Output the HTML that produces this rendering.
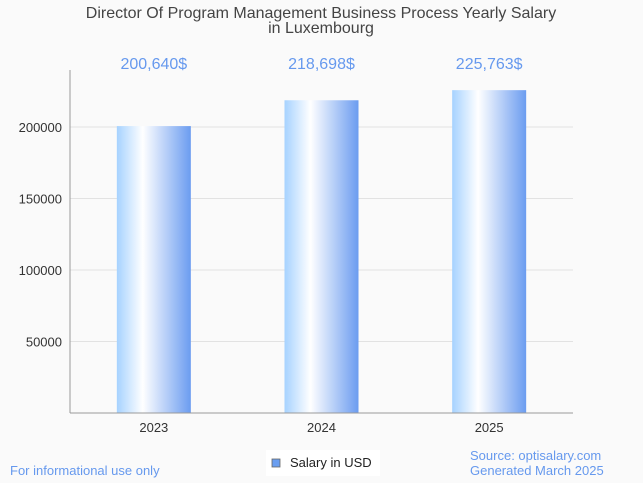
<!DOCTYPE html>
<html><head><meta charset="utf-8"><style>
body{margin:0;background:#fafafa;font-family:"Liberation Sans",sans-serif;}
</style></head><body>
<svg width="643" height="483" xmlns="http://www.w3.org/2000/svg" style="display:block">
<defs><linearGradient id="g" x1="0" x2="1" y1="0" y2="0">
<stop offset="0" stop-color="#a6d2ff"/><stop offset="0.35" stop-color="#ffffff"/><stop offset="1" stop-color="#6b9cf0"/></linearGradient></defs>
<rect width="643" height="483" fill="#fafafa"/>
<text x="321" y="18" text-anchor="middle" font-size="16" fill="#444">Director Of Program Management Business Process Yearly Salary</text>
<text x="321" y="33" text-anchor="middle" font-size="16" fill="#444">in Luxembourg</text>
<g id="grid"></g><g id="bars"></g>
<line x1="70" y1="70" x2="70" y2="413" stroke="#999"/>
<line x1="70" y1="413" x2="573" y2="413" stroke="#999"/>
<text x="10" y="475" font-size="13" fill="#6699ee">For informational use only</text>
<rect x="266" y="450" width="114" height="26" fill="#fff"/>
<rect x="272" y="459" width="8" height="8" fill="#6a9ef0" stroke="#666" stroke-width="0.8"/>
<text x="290" y="467" font-size="13" fill="#222">Salary in USD</text>
<text x="470" y="460" font-size="13" fill="#6699ee">Source: optisalary.com</text>
<text x="470" y="475" font-size="13" fill="#6699ee">Generated March 2025</text>
</svg>
<script>
const categories=["2023","2024","2025"];
const salaries=[200640,218698,225763];
const valueLabels=["200,640$","218,698$","225,763$"];
const yTicks=[50000,100000,150000,200000];
const NS="http://www.w3.org/2000/svg";
const x0=70,x1=573,yb=413,pxPer=286/200000;
const y=v=>yb-v*pxPer;
const band=(x1-x0)/categories.length;
const grid=document.getElementById('grid'),bars=document.getElementById('bars');
function mk(t,a,p){const e=document.createElementNS(NS,t);for(const k in a)e.setAttribute(k,a[k]);p.appendChild(e);return e;}
yTicks.forEach(t=>{
 const l=mk('line',{x1:x0,x2:x1,y1:y(t),y2:y(t),stroke:'#e2e2e2'},grid);
 
 
 const tx=mk('text',{x:62,y:y(t)+5,'text-anchor':'end','font-size':13,fill:'#333'},grid);
 tx.textContent=t;
 
 
});
categories.forEach((c,i)=>{
 const cx=x0+band*(i+0.5),w=74;
 const r=mk('rect',{x:cx-w/2,y:y(salaries[i]),width:w,height:yb-y(salaries[i]),fill:'url(#g)'},bars);
 
 
 const v=mk('text',{x:cx,y:69,'text-anchor':'middle','font-size':16,fill:'#6699ee'},bars);
 v.textContent=valueLabels[i];
 
 
 const xl=mk('text',{x:cx,y:432,'text-anchor':'middle','font-size':13,fill:'#333'},bars);
 xl.textContent=c;
 
 
});
</script>
</body></html>
